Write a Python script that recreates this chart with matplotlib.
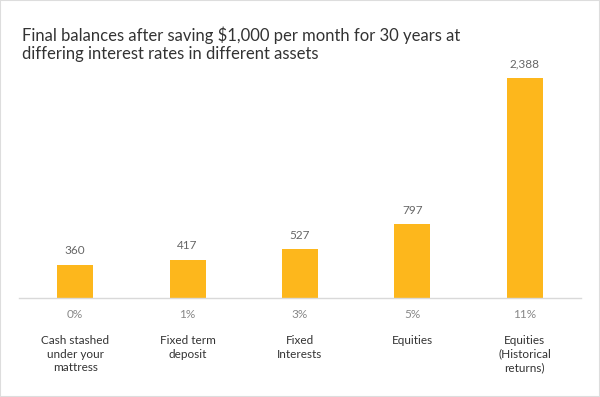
import matplotlib
matplotlib.use("Agg")
import matplotlib.pyplot as plt
from matplotlib.patches import Rectangle

plt.rcParams['font.family'] = ['Lato', 'DejaVu Sans']

rates = ["0%", "1%", "3%", "5%", "11%"]
categories = ["Cash stashed\nunder your\nmattress", "Fixed term\ndeposit",
              "Fixed\nInterests", "Equities", "Equities\n(Historical\nreturns)"]
balances = [360, 417, 527, 797, 2388]
value_labels = ["360", "417", "527", "797", "2,388"]

BAR_COLOR = "#FDB71C"

fig = plt.figure(figsize=(6.0, 3.97), dpi=100)
fig.patches.append(Rectangle((0, 0), 1, 1, transform=fig.transFigure,
                             fill=False, edgecolor="#dddddd", linewidth=1.5))

# axes bottom sits on the baseline
ax = fig.add_axes([19 / 600, 99 / 397, 562 / 600, 240 / 397])
x = list(range(len(balances)))
ax.bar(x, balances, width=0.32, color=BAR_COLOR)
ax.set_xlim(-0.5, len(balances) - 0.5)
ax.set_ylim(0, 2600)

for s in ["top", "right", "left"]:
    ax.spines[s].set_visible(False)
ax.spines["bottom"].set_color("#d9d9d9")
ax.spines["bottom"].set_linewidth(1)
ax.set_yticks([])
ax.set_xticks([])

for xi, v, lab in zip(x, balances, value_labels):
    ax.annotate(lab, (xi, v), xytext=(0, 6), textcoords="offset points",
                ha="center", va="bottom", fontsize=8.5, color="#666666")

for xi, r, c in zip(x, rates, categories):
    ax.annotate(r, (xi, 0), xytext=(0, -12), textcoords="offset points",
                ha="center", va="center", fontsize=8.5, color="#888888")
    ax.annotate(c, (xi, 0), xytext=(0, -27), textcoords="offset points",
                ha="center", va="top", fontsize=8.5, color="#333333",
                linespacing=1.25)

fig.text(22 / 600, 1 - 27 / 397,
         "Final balances after saving $1,000 per month for 30 years at\n"
         "differing interest rates in different assets",
         ha="left", va="top", fontsize=12, color="#333333", linespacing=1.15)

fig.savefig("out.png", dpi=100)
